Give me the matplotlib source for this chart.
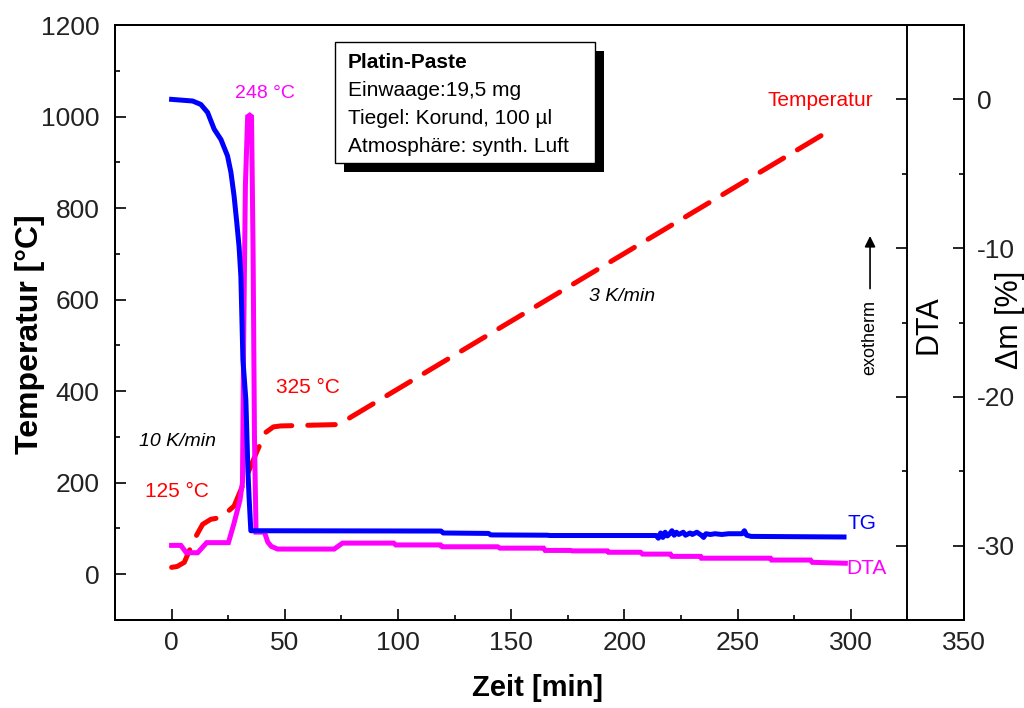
import matplotlib
matplotlib.use('Agg')
import matplotlib.pyplot as plt
from matplotlib.ticker import FixedLocator
from matplotlib.patches import Rectangle

plt.rcParams['font.family'] = ['Liberation Sans', 'DejaVu Sans']
plt.rcParams['axes.unicode_minus'] = False

# ---------------- data ----------------
# TG curve: time [min] and mass change [%]
tg_time = [0, 9.3, 12.9, 15.9, 18.8, 21.8, 24.7, 26.2, 27.6, 28.8, 29.8, 30.6,
           31.5, 32.8, 33.7, 34.2, 35.0, 39.4, 119, 120, 140, 141, 166, 167,
           214, 215, 216, 217, 218, 219, 220, 221, 222, 223, 224, 226, 227,
           229, 230, 232, 234, 235, 236, 238, 240, 243, 246, 252, 253, 254,
           256, 297]
tg_mass = [0, -0.11, -0.34, -0.88, -2.0, -2.7, -3.8, -4.9, -6.5, -8.3, -9.9, -11.9,
           -17.5, -20.2, -24.9, -26.7, -29.0, -29.0, -29.02, -29.15, -29.18, -29.28,
           -29.3, -29.32, -29.32, -29.5, -29.15, -29.45, -29.1, -29.35, -29.2, -29.0,
           -29.3, -29.1, -29.25, -29.1, -29.3, -29.15, -29.25, -29.1, -29.3, -29.45,
           -29.2, -29.25, -29.2, -29.25, -29.2, -29.2, -29.0, -29.3, -29.38, -29.42]

# DTA curve (arbitrary units, drawn on the temperature scale)
dta_time = [0, 4.1, 6.5, 11.5, 15.5, 25.1, 27.5, 30.2, 31.3, 31.8, 32.6, 33.6,
            34.5, 35.3, 36.0, 36.6, 37.3, 41.0, 42.5, 44.0, 46.8, 71.8, 75.5,
            98.1, 99, 118.8, 119.5, 144, 145, 164.3, 165, 176.2, 177, 192.5,
            193, 207.1, 208, 220.3, 221, 233.6, 234, 264.5, 265, 282.2, 283, 297.6]
dta_signal = [63, 63, 47, 47, 69, 69, 110, 162, 200, 500, 850, 1000,
              1003, 1000, 700, 300, 92, 92, 70, 61, 55, 55, 68,
              68, 64, 64, 60, 60, 57, 57, 52, 52, 51, 51,
              48, 48, 44, 44, 39, 39, 35, 35, 31, 31, 26, 24]

# Temperature programme
temp_time = [0, 2.5, 5.6, 10, 13.7, 17.3, 21.8, 27.6, 38.1, 41.6, 45, 48.2,
             73.3, 76, 79.1, 289.5]
temp_value = [15, 17, 26, 76, 109, 120, 124, 149, 273, 310, 322, 324,
              327, 333, 343, 966]

x_ticks = [0, 50, 100, 150, 200, 250, 300, 350]
y_ticks = [0, 200, 400, 600, 800, 1000, 1200]
dm_ticks = [0, -10, -20, -30]

info_lines = ["Einwaage:19,5 mg", "Tiegel: Korund, 100 µl", "Atmosphäre: synth. Luft"]

# ---------------- figure ----------------
W, H = 1024, 708
fig = plt.figure(figsize=(W / 100, H / 100), dpi=100)
ax_l, ax_r, ax_t, ax_b = 115, 964, 25, 620
ax = fig.add_axes([ax_l / W, 1 - ax_b / H, (ax_r - ax_l) / W, (ax_b - ax_t) / H])
ax.set_xlim(-25, 350)
ax.set_ylim(-100, 1200)

lw_sp = 1.4
for s in ax.spines.values():
    s.set_linewidth(lw_sp)

ax.set_xticks(x_ticks)
ax.set_yticks(y_ticks)
ax.xaxis.set_minor_locator(FixedLocator([25, 75, 125, 175, 225, 275, 325]))
ax.yaxis.set_minor_locator(FixedLocator([100, 300, 500, 700, 900, 1100]))
ax.tick_params(which='major', direction='in', length=8, width=1.2, labelsize=19,
               colors='black', top=False, right=False)
ax.tick_params(which='minor', direction='in', length=3.5, width=1.2,
               top=False, right=False)
ax.tick_params(axis='y', pad=11)
ax.tick_params(axis='x', pad=8)
for lab in ax.get_xticklabels() + ax.get_yticklabels():
    lab.set_color('#222222')

# temperature (red dashed) and DTA (magenta)
ax.plot(temp_time, temp_value, color='#ff0000', lw=3.6,
        dashes=(5.5, 3.2), solid_capstyle='round', dash_capstyle='round', zorder=2)
ax.plot(dta_time, dta_signal, color='#ff00ff', lw=3.6, zorder=3,
        solid_joinstyle='miter')

ax.set_ylabel('Temperatur [°C]', fontsize=23, fontweight='bold', va='center')
ax.yaxis.set_label_coords(-0.100, 0.481)
ax.set_xlabel('Zeit [min]', fontsize=21, fontweight='bold', va='center')
ax.xaxis.set_label_coords(0.498, -0.114)

# right mass axis
ax2 = ax.twinx()
ax2.set_ylim(-35, 5)
ax2.set_yticks(dm_ticks)
ax2.yaxis.set_minor_locator(FixedLocator([-5, -15, -25]))
ax2.tick_params(which='major', direction='in', length=8, width=1.2, labelsize=19, pad=9)
ax2.tick_params(which='minor', direction='in', length=3.5, width=1.2)
for lab in ax2.get_yticklabels():
    lab.set_color('#222222')
for s in ax2.spines.values():
    s.set_linewidth(lw_sp)
ax2.plot(tg_time, tg_mass, color='#0000ff', lw=3.6, zorder=4)

# inner DTA axis line at x = 325
x325 = ax_l + (325 + 25) * (ax_r - ax_l) / 375
ax3 = fig.add_axes([ax_l / W, 1 - ax_b / H, (x325 - ax_l) / W, (ax_b - ax_t) / H])
ax3.patch.set_visible(False)
for k in ['left', 'top', 'bottom']:
    ax3.spines[k].set_visible(False)
ax3.spines['right'].set_linewidth(lw_sp)
ax3.set_xticks([])
ax3.set_ylim(-35, 5)
ax3.yaxis.tick_right()
ax3.set_yticks(dm_ticks)
ax3.yaxis.set_minor_locator(FixedLocator([-5, -15, -25]))
ax3.tick_params(which='major', direction='in', length=8, width=1.2, labelright=False)
ax3.tick_params(which='minor', direction='in', length=3.5, width=1.2, labelright=False)

# axis titles on the right
ax.text(0.9576, 0.496, 'DTA', transform=ax.transAxes, rotation=90,
        fontsize=22, ha='center', va='center')
ax.text(1.054, 0.504, 'Δm [%]', transform=ax.transAxes, rotation=90,
        fontsize=22, ha='center', va='center')

# annotations
ax.text(41.3, 1051, '248 °C', color='#ff00ff', fontsize=14, ha='center', va='center',
        zorder=6)
ax.text(286.4, 1036, 'Temperatur', color='#ff0000', fontsize=15,
        ha='center', va='center')
ax.text(60.2, 409, '325 °C', color='#ff0000', fontsize=15, ha='center', va='center')
ax.text(2.4, 180, '125 °C', color='#ff0000', fontsize=15, ha='center', va='center')
ax.text(2.4, 291, '10 K/min', color='black', fontsize=14, style='italic',
        ha='center', va='center')
ax.text(199, 606, '3 K/min', color='black', fontsize=14, style='italic',
        ha='center', va='center')
ax.text(298.5, 110, 'TG', color='#0000ff', fontsize=15, ha='left', va='center')
ax.text(297.8, 13, 'DTA', color='#ff00ff', fontsize=15, ha='left', va='center')

# exotherm arrow
ax.annotate('', xy=(308.5, 745), xytext=(308.5, 618),
            arrowprops=dict(arrowstyle='-|>', color='black', lw=1.2,
                            mutation_scale=16))
ax.text(308.5, 518, 'exotherm', rotation=90, fontsize=13, ha='center', va='center')

# info box with shadow
bx0, by0, bx1, by1 = 335, 42, 595, 163
off = 9
fig.add_artist(Rectangle(((bx0 + off) / W, 1 - (by1 + off) / H),
                         (bx1 - bx0) / W, (by1 - by0) / H,
                         transform=fig.transFigure, facecolor='black',
                         edgecolor='black', lw=0, zorder=10))
fig.add_artist(Rectangle((bx0 / W, 1 - by1 / H), (bx1 - bx0) / W, (by1 - by0) / H,
                         transform=fig.transFigure, facecolor='white',
                         edgecolor='black', lw=1.0, zorder=11))
fig.text(348 / W, 1 - 63 / H, 'Platin-Paste', fontsize=15, fontweight='bold',
         ha='left', va='center', zorder=12)
for i, line in enumerate(info_lines):
    fig.text(348 / W, 1 - (91 + 27.7 * i) / H, line, fontsize=15,
             ha='left', va='center', zorder=12)

fig.savefig('out.png', dpi=100)
